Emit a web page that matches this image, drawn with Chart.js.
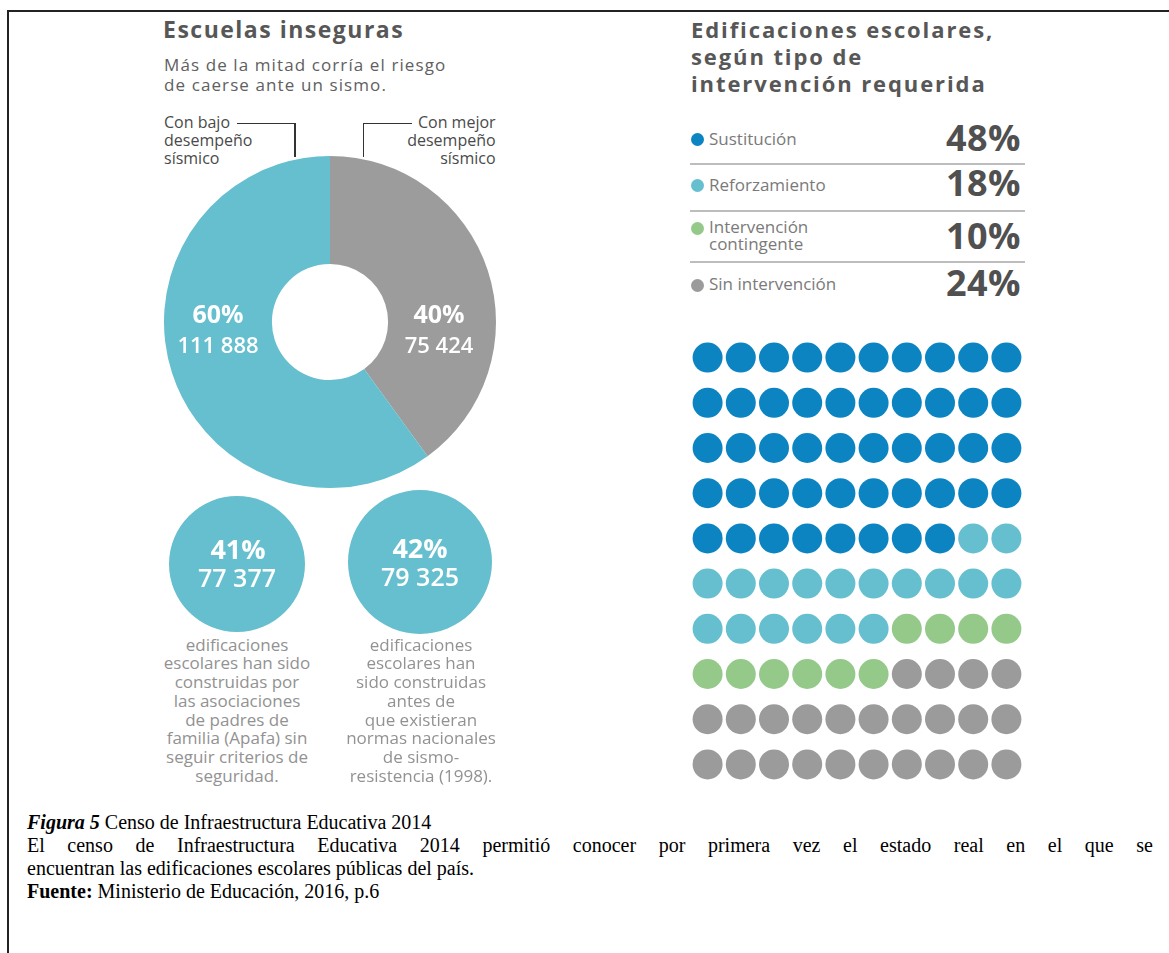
<!DOCTYPE html>
<html lang="es">
<head>
<meta charset="UTF-8">
<title>Censo de Infraestructura Educativa 2014</title>
<script src="https://cdn.jsdelivr.net/npm/chart.js"></script>
<style>
    body {
        margin: 0;
        background: #fff;
        font-family: 'Open Sans', Arial, sans-serif;
    }

    #page {
        position: relative;
        width: 1169px;
        height: 953px;
        overflow: hidden;
    }

    .frame {
        position: absolute;
        left: 7px;
        top: 10px;
        width: 1180px;
        height: 960px;
        border-left: 2px solid #222;
        border-top: 2px solid #222;
    }

    .t {
        position: absolute;
        white-space: pre-line;
    }

    .title {
        font-weight: 700;
        color: #575757;
        font-size: 23px;
        line-height: 27px;
        letter-spacing: 1.5px;
    }

    .label {
        font-size: 16px;
        line-height: 18px;
        color: #4a4a4a;
    }

    .inside {
        color: #fff;
        text-align: center;
        width: 140px;
    }

    .pct { font-weight: 700; }
    .num { font-weight: 600; }

    .desc {
        font-size: 17px;
        line-height: 18.7px;
        color: #929292;
        text-align: center;
        width: 180px;
    }

    .line {
        position: absolute;
        background: #333;
    }

    .box {
        position: absolute;
    }

    .caption {
        position: absolute;
        left: 27px;
        top: 810.7px;
        width: 1126px;
        font-family: 'Liberation Serif', 'Times New Roman', serif;
        font-size: 20px;
        line-height: 23px;
        color: #000;
    }

    .just {
        text-align: justify;
        text-align-last: justify;
    }
</style>
</head>
<body>

<div id="page">
    <div class="frame"></div>

    <!-- left panel -->
    <div class="t title" style="left:163px; top:16px;">Escuelas inseguras</div>
    <div class="t" style="left:164px; top:54.8px; font-size:17px; line-height:20.3px; color:#606060; letter-spacing:1.1px;">Más de la mitad corría el riesgo
de caerse ante un sismo.</div>

    <div class="t label" id="lblLow" style="left:164px; top:112.8px;"></div>
    <div class="t label" id="lblHigh" style="left:380px; width:115.6px; text-align:right; top:112.8px;"></div>

    <div class="line" style="left:237px; top:122.5px; width:58.5px; height:1.6px;"></div>
    <div class="line" style="left:294px; top:122.5px; width:1.6px; height:34px;"></div>
    <div class="line" style="left:362.5px; top:122.5px; width:1.6px; height:34px;"></div>
    <div class="line" style="left:362.5px; top:122.5px; width:49.5px; height:1.6px;"></div>

    <div class="box" style="left:164px; top:156px; width:332px; height:332px;">
        <canvas id="donut" width="332" height="332"></canvas>
    </div>

    <div class="t inside pct" id="donutPctLow" style="left:148px; top:299.3px; font-size:25px; line-height:28px;"></div>
    <div class="t inside num" id="donutNumLow" style="left:148px; top:329.7px; font-size:22px; line-height:28px;"></div>
    <div class="t inside pct" id="donutPctHigh" style="left:369px; top:299.3px; font-size:25px; line-height:28px;"></div>
    <div class="t inside num" id="donutNumHigh" style="left:369px; top:329.7px; font-size:22px; line-height:28px;"></div>

    <div class="box" style="left:169px; top:496px; width:136px; height:136px;">
        <canvas id="circleA" width="136" height="136"></canvas>
    </div>
    <div class="box" style="left:348px; top:490px; width:144px; height:144px;">
        <canvas id="circleB" width="144" height="144"></canvas>
    </div>

    <div class="t inside pct" id="circPctA" style="left:168px; top:533.8px; font-size:27px; line-height:30px;"></div>
    <div class="t inside num" id="circNumA" style="left:167px; top:563px; font-size:25px; line-height:28px;"></div>
    <div class="t inside pct" id="circPctB" style="left:350px; top:532.8px; font-size:27px; line-height:30px;"></div>
    <div class="t inside num" id="circNumB" style="left:350px; top:562.3px; font-size:25px; line-height:28px;"></div>

    <div class="t desc" style="left:147px; top:635.7px;">edificaciones
escolares han sido
construidas por
las asociaciones
de padres de
familia (Apafa) sin
seguir criterios de
seguridad.</div>
    <div class="t desc" style="left:331px; top:635.7px;">edificaciones
escolares han
sido construidas
antes de
que existieran
normas nacionales
de sismo-
resistencia (1998).</div>

    <!-- right panel -->
    <div class="t title" style="left:691px; top:16.4px; font-size:22px; line-height:26.7px; letter-spacing:1.9px;">Edificaciones escolares,
según tipo de
intervención requerida</div>

    <div id="legend"></div>

    <div class="box" style="left:691px; top:335px; width:332px; height:452px;">
        <canvas id="waffle" width="332" height="452"></canvas>
    </div>

    <!-- caption -->
    <div class="caption">
        <div><b><i>Figura 5</i></b> Censo de Infraestructura Educativa 2014</div>
        <div class="just">El censo de Infraestructura Educativa 2014 permitió conocer por primera vez el estado real en el que se</div>
        <div>encuentran las edificaciones escolares públicas del país.</div>
        <div><b>Fuente:</b> Ministerio de Educación, 2016, p.6</div>
    </div>
</div>

<script>
    // doughnut: seismic performance of school buildings
    const donutLabels = ['Con mejor\ndesempeño\nsísmico', 'Con bajo\ndesempeño\nsísmico'];
    const donutPct = [40, 60];
    const donutCount = [75424, 111888];

    // small circles
    const circlePct = [41, 42];
    const circleCount = [77377, 79325];

    // required intervention (waffle, 100 dots)
    const interventionLabels = ['Sustitución', 'Reforzamiento', 'Intervención\ncontingente', 'Sin intervención'];
    const interventionPct = [48, 18, 10, 24];

    const cyan = '#65bfce';
    const grey = '#9c9c9c';
    const interventionColors = ['#0b84c1', '#66bfcf', '#94c98a', '#9b9b9b'];

    function fmt(n) {
        return String(n).replace(/\B(?=(\d{3})+(?!\d))/g, ' ');
    }

    function setText(id, txt) {
        document.getElementById(id).textContent = txt;
    }

    setText('lblHigh', donutLabels[0]);
    setText('lblLow', donutLabels[1]);
    setText('donutPctHigh', donutPct[0] + '%');
    setText('donutNumHigh', fmt(donutCount[0]));
    setText('donutPctLow', donutPct[1] + '%');
    setText('donutNumLow', fmt(donutCount[1]));
    setText('circPctA', circlePct[0] + '%');
    setText('circNumA', fmt(circleCount[0]));
    setText('circPctB', circlePct[1] + '%');
    setText('circNumB', fmt(circleCount[1]));

    // legend table rows
    const dotTops = [132.8, 178.5, 221.8, 278.5];
    const labelTops = [130.4, 176.4, 218, 274.7];
    const pctTops = [117.7, 162.7, 216, 262.7];
    const sepTops = [163.3, 210, 261];
    const legend = document.getElementById('legend');
    interventionLabels.forEach(function(lbl, i) {
        const dot = document.createElement('div');
        dot.className = 'box';
        dot.style.cssText = 'left:690.7px; width:13px; height:13px; border-radius:50%; top:' + dotTops[i] + 'px; background:' + interventionColors[i];
        legend.appendChild(dot);

        const name = document.createElement('div');
        name.className = 't';
        name.style.cssText = 'left:709px; font-size:17px; line-height:17.4px; color:#7a7a7a; top:' + labelTops[i] + 'px';
        name.textContent = lbl;
        legend.appendChild(name);

        const val = document.createElement('div');
        val.className = 't';
        val.style.cssText = 'left:880px; width:141px; text-align:right; font-size:36px; line-height:40px; font-weight:700; color:#505050; letter-spacing:0.5px; top:' + pctTops[i] + 'px';
        val.textContent = interventionPct[i] + '%';
        legend.appendChild(val);

        if (i < sepTops.length) {
            const sep = document.createElement('div');
            sep.className = 'box';
            sep.style.cssText = 'left:690px; width:335px; height:1.5px; background:#bdbdbd; top:' + sepTops[i] + 'px';
            legend.appendChild(sep);
        }
    });

    const quiet = {
        responsive: false,
        animation: false,
        events: [],
        layout: { padding: 0, autoPadding: false },
        plugins: {
            legend: { display: false },
            tooltip: { enabled: false }
        }
    };

    new Chart(document.getElementById('donut'), {
        type: 'doughnut',
        data: {
            labels: donutLabels,
            datasets: [{
                data: donutPct,
                backgroundColor: [grey, cyan],
                borderWidth: 0
            }]
        },
        options: Object.assign({}, quiet, { cutout: '35%' })
    });

    ['circleA', 'circleB'].forEach(function(id, i) {
        new Chart(document.getElementById(id), {
            type: 'pie',
            data: {
                labels: [circlePct[i] + '%'],
                datasets: [{
                    data: [circleCount[i]],
                    backgroundColor: [cyan],
                    borderWidth: 0
                }]
            },
            options: quiet
        });
    });

    // waffle: one dot per percent, filled row by row
    const wafflePoints = [];
    const waffleColors = [];
    let cell = 0;
    interventionPct.forEach(function(pct, k) {
        for (let j = 0; j < pct; j++) {
            wafflePoints.push({ x: cell % 10, y: Math.floor(cell / 10) });
            waffleColors.push(interventionColors[k]);
            cell++;
        }
    });

    new Chart(document.getElementById('waffle'), {
        type: 'scatter',
        data: {
            datasets: [{
                data: wafflePoints,
                pointBackgroundColor: waffleColors,
                pointBorderWidth: 0,
                pointRadius: 15,
                clip: false
            }]
        },
        options: Object.assign({}, quiet, {
            scales: {
                x: { type: 'linear', min: -0.5, max: 9.5, display: false },
                y: { type: 'linear', min: -0.5, max: 9.5, reverse: true, display: false }
            }
        })
    });
</script>

</body>
</html>
